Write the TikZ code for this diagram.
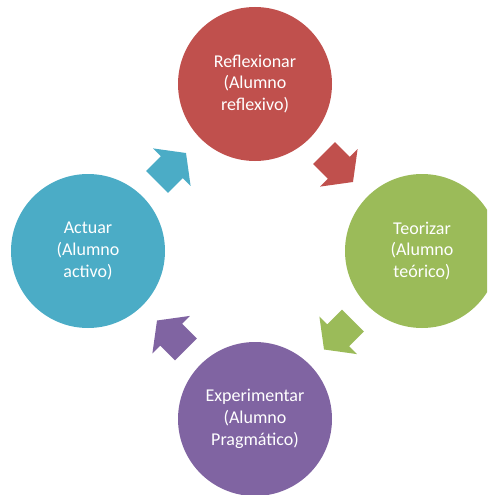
\documentclass[tikz,border=0pt]{standalone}
\usepackage{fontspec}
\setmainfont{Carlito}
\usetikzlibrary{calc}
\definecolor{cred}{HTML}{C0504D}
\definecolor{cgreen}{HTML}{9BBB59}
\definecolor{cpurple}{HTML}{8064A2}
\definecolor{cblue}{HTML}{4BACC6}
\tikzset{
  stage/.style={circle, fill=#1, draw=none, minimum size=154pt, inner sep=0pt,
    text=white, align=center, font=\fontsize{18}{21.7}\selectfont},
  cyclearrow/.style={fill=#1, draw=none}
}
\newcommand{\blockarrow}{(-20.5,15.5) -- (0.5,15.5) -- (0.5,26.5) -- (20.5,0) -- (0.5,-26.5) -- (0.5,-15.5) -- (-20.5,-15.5) -- cycle}
\begin{document}
\begin{tikzpicture}[x=1pt,y=1pt]
\useasboundingbox (0,0) rectangle (487,-495);
\clip (0,0) rectangle (487,-495);
\node[stage=cred] (top) at (255,-84) {Reflexionar\\(Alumno\\reflexivo)};
\node[stage=cgreen] (right) at (422,-251) {Teorizar\\(Alumno\\teórico)};
\node[stage=cpurple] (bottom) at (255,-419) {Experimentar\\(Alumno\\Pragmático)};
\node[stage=cblue] (left) at (88,-251) {Actuar\\(Alumno\\activo)};
\coordinate (a1) at ($(top.center)!0.5!(right.center)$);
\coordinate (a2) at ($(right.center)!0.5!(bottom.center)$);
\coordinate (a3) at ($(bottom.center)!0.5!(left.center)$);
\coordinate (a4) at ($(left.center)!0.5!(top.center)$);
\fill[cyclearrow=cred, shift={(a1)}, rotate=-45] \blockarrow;
\fill[cyclearrow=cgreen, shift={(a2)}, rotate=-135] \blockarrow;
\fill[cyclearrow=cpurple, shift={(a3)}, rotate=135] \blockarrow;
\fill[cyclearrow=cblue, shift={(a4)}, rotate=45] \blockarrow;
\end{tikzpicture}
\end{document}
